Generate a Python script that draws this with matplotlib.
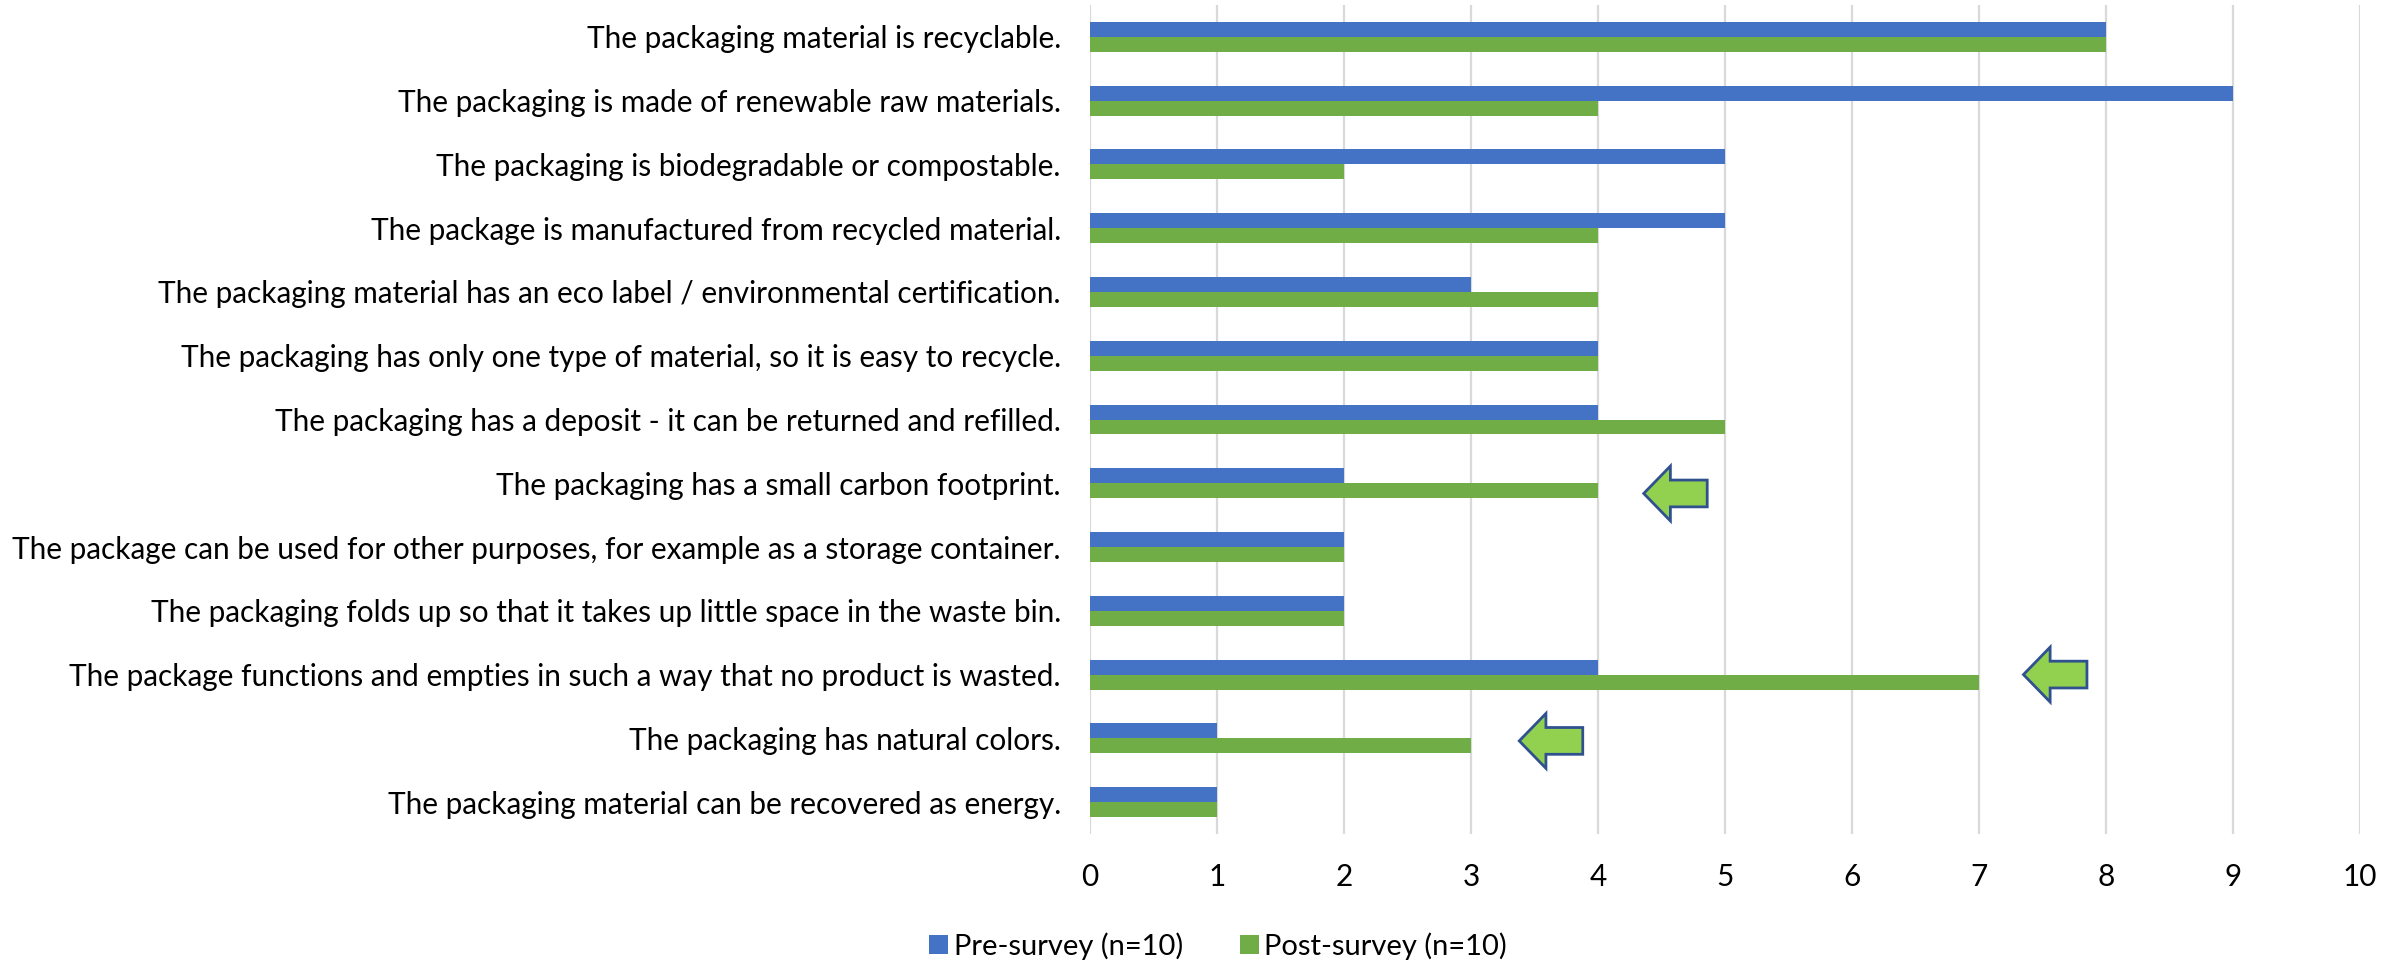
import matplotlib
matplotlib.use("Agg")
import matplotlib.pyplot as plt
from matplotlib.patches import Polygon

plt.rcParams['font.family'] = ['Lato', 'DejaVu Sans']

statements = [
    "The packaging material is recyclable.",
    "The packaging is made of renewable raw materials.",
    "The packaging is biodegradable or compostable.",
    "The package is manufactured from recycled material.",
    "The packaging material has an eco label / environmental certification.",
    "The packaging has only one type of material, so it is easy to recycle.",
    "The packaging has a deposit - it can be returned and refilled.",
    "The packaging has a small carbon footprint.",
    "The package can be used for other purposes, for example as a storage container.",
    "The packaging folds up so that it takes up little space in the waste bin.",
    "The package functions and empties in such a way that no product is wasted.",
    "The packaging has natural colors.",
    "The packaging material can be recovered as energy.",
]
pre_survey = [8, 9, 5, 5, 3, 4, 4, 2, 2, 2, 4, 1, 1]
post_survey = [8, 4, 2, 4, 4, 4, 5, 4, 2, 2, 7, 3, 1]
x_ticks = list(range(0, 11))

# callout arrows: row, x of the tip, vertical shift in rows
arrow_rows = [7, 10, 11]
arrow_tips = [4.36, 7.35, 3.38]
arrow_shifts = [0.16, 0.0, 0.04]

W, H = 2407, 961
fig = plt.figure(figsize=(W / 100, H / 100), dpi=100)
ax = fig.add_axes([1090 / W, 1 - 834 / H, 1270 / W, 829 / H])

rows = list(range(len(statements)))
bar_h = 0.235
ax.barh([r - bar_h / 2 for r in rows], pre_survey, height=bar_h, color="#4472C4",
        label="Pre-survey (n=10)", zorder=3)
ax.barh([r + bar_h / 2 for r in rows], post_survey, height=bar_h, color="#70AD47",
        label="Post-survey (n=10)", zorder=3)

ax.set_xlim(0, 10)
ax.set_ylim(12.5, -0.5)
ax.set_xticks(x_ticks)
ax.set_yticks(rows)
ax.set_yticklabels(statements)
ax.tick_params(axis="both", length=0, labelsize=21.45, labelcolor="black")
ax.tick_params(axis="y", pad=21)
ax.tick_params(axis="x", pad=21)
ax.grid(axis="x", color="#D9D9D9", linewidth=1.6, zorder=0)
ax.set_axisbelow(True)
for side in ax.spines:
    ax.spines[side].set_visible(False)

# block arrows pointing left, next to the rows that grew the most
for row, tip, shift in zip(arrow_rows, arrow_tips, arrow_shifts):
    c = row + shift
    pts = [(tip, c), (tip + 0.21, c - 0.43), (tip + 0.21, c - 0.21), (tip + 0.5, c - 0.21),
           (tip + 0.5, c + 0.21), (tip + 0.21, c + 0.21), (tip + 0.21, c + 0.43)]
    ax.add_patch(Polygon(pts, closed=True, facecolor="#92D050", edgecolor="#2F528F",
                         linewidth=2, zorder=4))

fig.legend(loc="center", bbox_to_anchor=(1218 / W, 1 - 946 / H), ncol=2, frameon=False,
           fontsize=21, handlelength=0.65, handleheight=0.65, handletextpad=0.2,
           columnspacing=1.95, borderpad=0, borderaxespad=0)

fig.savefig("out.png", dpi=100, facecolor="white")
